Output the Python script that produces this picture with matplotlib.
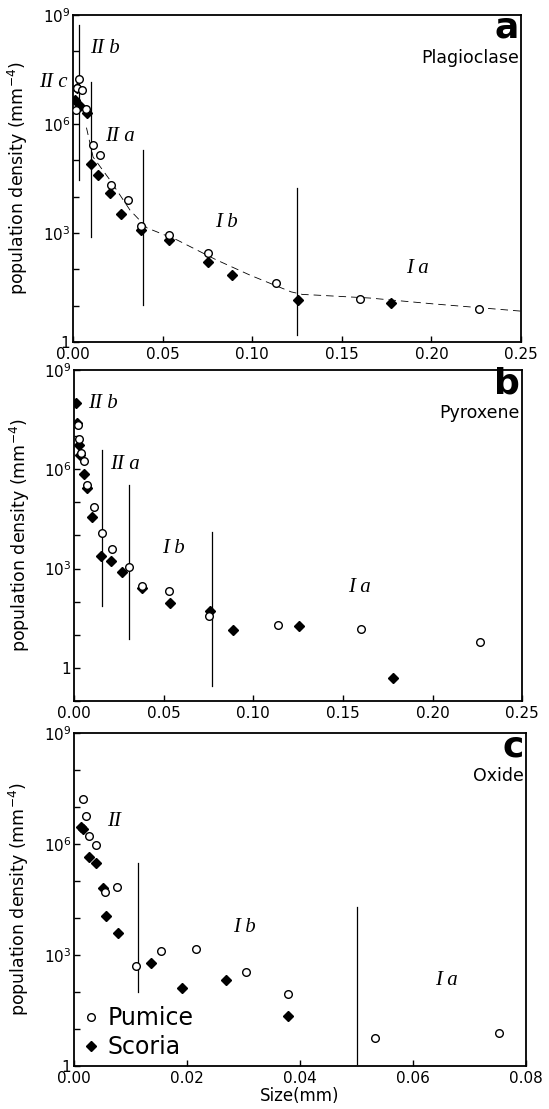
import numpy as np
import matplotlib
matplotlib.use('Agg')
import matplotlib.pyplot as plt
from matplotlib.ticker import FixedLocator, FixedFormatter, NullFormatter

# --- data (size in mm, log10 of population density) ---

# a: Plagioclase
plag_pum_x = [0.0017, 0.0022, 0.0033, 0.005, 0.0073, 0.0112, 0.015, 0.0212, 0.0307,
              0.038, 0.0536, 0.0753, 0.1133, 0.160, 0.2266]
plag_pum_logy = [6.39, 7.0, 7.24, 6.94, 6.41, 5.42, 5.15, 4.32, 3.91,
                 3.19, 2.94, 2.45, 1.62, 1.18, 0.91]
plag_sco_x = [0.001, 0.0022, 0.004, 0.0078, 0.010, 0.014, 0.0206, 0.0268, 0.038,
              0.0536, 0.0753, 0.0887, 0.1256, 0.1775]
plag_sco_logy = [6.66, 7.0, 6.5, 6.30, 4.90, 4.60, 4.10, 3.52, 3.08,
                 2.81, 2.20, 1.84, 1.16, 1.07]
plag_fit_x = [0.0075, 0.0112, 0.0206, 0.0318, 0.0413, 0.058, 0.080, 0.0988, 0.1217,
              0.128, 0.136, 0.1657, 0.2009, 0.25]
plag_fit_logy = [5.9, 5.09, 4.46, 3.63, 3.14, 2.81, 2.26, 1.84, 1.38,
                 1.31, 1.29, 1.21, 1.05, 0.85]
plag_bounds_x = [0.0033, 0.010, 0.039, 0.125]
plag_bounds_lo = [4.46, 2.89, 1.02, 0.2]
plag_bounds_hi = [8.72, 7.16, 5.28, 4.24]

# b: Pyroxene
pyx_pum_x = [0.002, 0.0028, 0.0039, 0.0056, 0.0073, 0.0112, 0.0156, 0.0212, 0.0307,
             0.038, 0.053, 0.0753, 0.1138, 0.160, 0.2266]
pyx_pum_logy = [7.34, 6.92, 6.50, 6.26, 5.51, 4.87, 4.06, 3.58, 3.04,
                2.46, 2.31, 1.56, 1.29, 1.17, 0.78]
pyx_sco_x = [0.0011, 0.0017, 0.0028, 0.0033, 0.0056, 0.0073, 0.010, 0.015, 0.0206,
             0.0268, 0.038, 0.0536, 0.0759, 0.0887, 0.1256, 0.178]
pyx_sco_logy = [8.01, 7.40, 6.74, 6.44, 5.87, 5.42, 4.57, 3.37, 3.22,
                2.89, 2.40, 1.95, 1.71, 1.14, 1.26, -0.31]
pyx_bounds_x = [0.0156, 0.0307, 0.077]
pyx_bounds_lo = [1.86, 0.87, -0.55]
pyx_bounds_hi = [6.59, 5.54, 4.12]

# c: Oxide
ox_pum_x = [0.0016, 0.0021, 0.0027, 0.0039, 0.0055, 0.0076, 0.011, 0.0154, 0.0216,
            0.0304, 0.0379, 0.0533, 0.0752]
ox_pum_logy = [7.22, 6.76, 6.22, 5.97, 4.70, 4.84, 2.70, 3.11, 3.16,
               2.54, 1.95, 0.76, 0.89]
ox_sco_x = [0.0012, 0.0016, 0.0027, 0.0039, 0.0052, 0.0056, 0.0078, 0.0136, 0.0191,
            0.0269, 0.0379]
ox_sco_logy = [6.47, 6.40, 5.65, 5.49, 4.81, 4.05, 3.59, 2.78, 2.11,
               2.32, 1.35]
ox_bounds_x = [0.0113, 0.0501]
ox_bounds_lo = [2.0, 0.05]
ox_bounds_hi = [5.49, 4.30]

# region labels: (text, x axes-fraction, y axes-fraction)
plag_regions = [('II b', 0.071, 0.899), ('II c', -0.045, 0.795), ('II a', 0.105, 0.627),
                ('I b', 0.342, 0.364), ('I a', 0.768, 0.226)]
pyx_regions = [('II b', 0.065, 0.900), ('II a', 0.114, 0.713),
               ('I b', 0.221, 0.462), ('I a', 0.636, 0.344)]
ox_regions = [('II', 0.088, 0.733), ('I b', 0.376, 0.417), ('I a', 0.823, 0.258)]


def setup_axes(ax, xmax, xticks, xticklabels, ymin_exp):
    ax.set_yscale('log')
    ax.set_xlim(0, xmax)
    ax.set_ylim(10.0 ** ymin_exp, 1e9)
    ax.xaxis.set_major_locator(FixedLocator(xticks))
    ax.xaxis.set_major_formatter(FixedFormatter(xticklabels))
    ax.yaxis.set_major_locator(FixedLocator([1, 1e3, 1e6, 1e9]))
    ax.yaxis.set_major_formatter(FixedFormatter(['1', '$10^3$', '$10^6$', '$10^9$']))
    ax.yaxis.set_minor_locator(FixedLocator([10.0 ** k for k in range(ymin_exp, 10)]))
    ax.yaxis.set_minor_formatter(NullFormatter())
    ax.tick_params(which='both', direction='in', length=4, width=1.0,
                   top=False, right=False, labelsize=11)
    ax.tick_params(axis='y', pad=2)
    for s in ax.spines.values():
        s.set_linewidth(1.3)
    ax.set_ylabel('population density (mm$^{-4}$)', fontsize=12.5)
    ax.yaxis.set_label_coords(-0.095, 0.5)


def draw_points(ax, px, py, sx, sy):
    ax.plot(sx, 10.0 ** np.array(sy), 'D', ms=4.8, color='black', zorder=3)
    ax.plot(px, 10.0 ** np.array(py), 'o', ms=5.5, mfc='white', mec='black',
            mew=1.0, zorder=4)


def draw_bounds(ax, bx, lo, hi):
    for x, a, b in zip(bx, lo, hi):
        ax.plot([x, x], [10.0 ** a, 10.0 ** b], color='black', lw=0.9, zorder=2)


def draw_regions(ax, regions):
    for txt, x, y in regions:
        ax.text(x, y, txt, transform=ax.transAxes, ha='center', va='center',
                fontsize=15, family='Liberation Serif', style='italic',
                clip_on=False)


def draw_name(ax, letter, name):
    ax.text(0.995, 0.93, letter, transform=ax.transAxes, ha='right', va='baseline',
            fontsize=26, fontweight='bold')
    ax.text(0.995, 0.897, name, transform=ax.transAxes, ha='right', va='top',
            fontsize=12.5)


fig = plt.figure(figsize=(5.49, 11.09), dpi=100)

# panel a
ax1 = fig.add_axes([0.133, 0.6916, 0.816, 0.2949])
setup_axes(ax1, 0.25, [0, 0.05, 0.10, 0.15, 0.20, 0.25],
           ['0.00', '0.05', '0.10', '0.15', '0.20', '0.25'], 0)
ax1.plot(plag_fit_x, 10.0 ** np.array(plag_fit_logy), color='black', lw=0.6,
         dashes=(9, 6), zorder=1)
draw_bounds(ax1, plag_bounds_x, plag_bounds_lo, plag_bounds_hi)
draw_points(ax1, plag_pum_x, plag_pum_logy, plag_sco_x, plag_sco_logy)
draw_regions(ax1, plag_regions)
draw_name(ax1, 'a', 'Plagioclase')

# panel b
ax2 = fig.add_axes([0.135, 0.3679, 0.816, 0.2985])
setup_axes(ax2, 0.25, [0, 0.05, 0.10, 0.15, 0.20, 0.25],
           ['0.00', '0.05', '0.10', '0.15', '0.20', '0.25'], -1)
draw_bounds(ax2, pyx_bounds_x, pyx_bounds_lo, pyx_bounds_hi)
draw_points(ax2, pyx_pum_x, pyx_pum_logy, pyx_sco_x, pyx_sco_logy)
draw_regions(ax2, pyx_regions)
draw_name(ax2, 'b', 'Pyroxene')

# panel c
ax3 = fig.add_axes([0.135, 0.0388, 0.823, 0.3003])
setup_axes(ax3, 0.08, [0, 0.02, 0.04, 0.06, 0.08],
           ['0.00', '0.02', '0.04', '0.06', '0.08'], 0)
draw_bounds(ax3, ox_bounds_x, ox_bounds_lo, ox_bounds_hi)
draw_points(ax3, ox_pum_x, ox_pum_logy, ox_sco_x, ox_sco_logy)
draw_regions(ax3, ox_regions)
draw_name(ax3, 'c', 'Oxide')
ax3.set_xlabel('Size(mm)', fontsize=12, labelpad=1)

h_pum, = ax3.plot([], [], 'o', ms=5.5, mfc='white', mec='black', mew=1.0)
h_sco, = ax3.plot([], [], 'D', ms=4.8, color='black')
ax3.legend([h_pum, h_sco], ['Pumice', 'Scoria'], loc='lower left', frameon=False,
           fontsize=17, handlelength=0.8, handletextpad=0.3, labelspacing=0.2,
           borderaxespad=0.1, borderpad=0.2)

fig.savefig('out.png', dpi=100)
